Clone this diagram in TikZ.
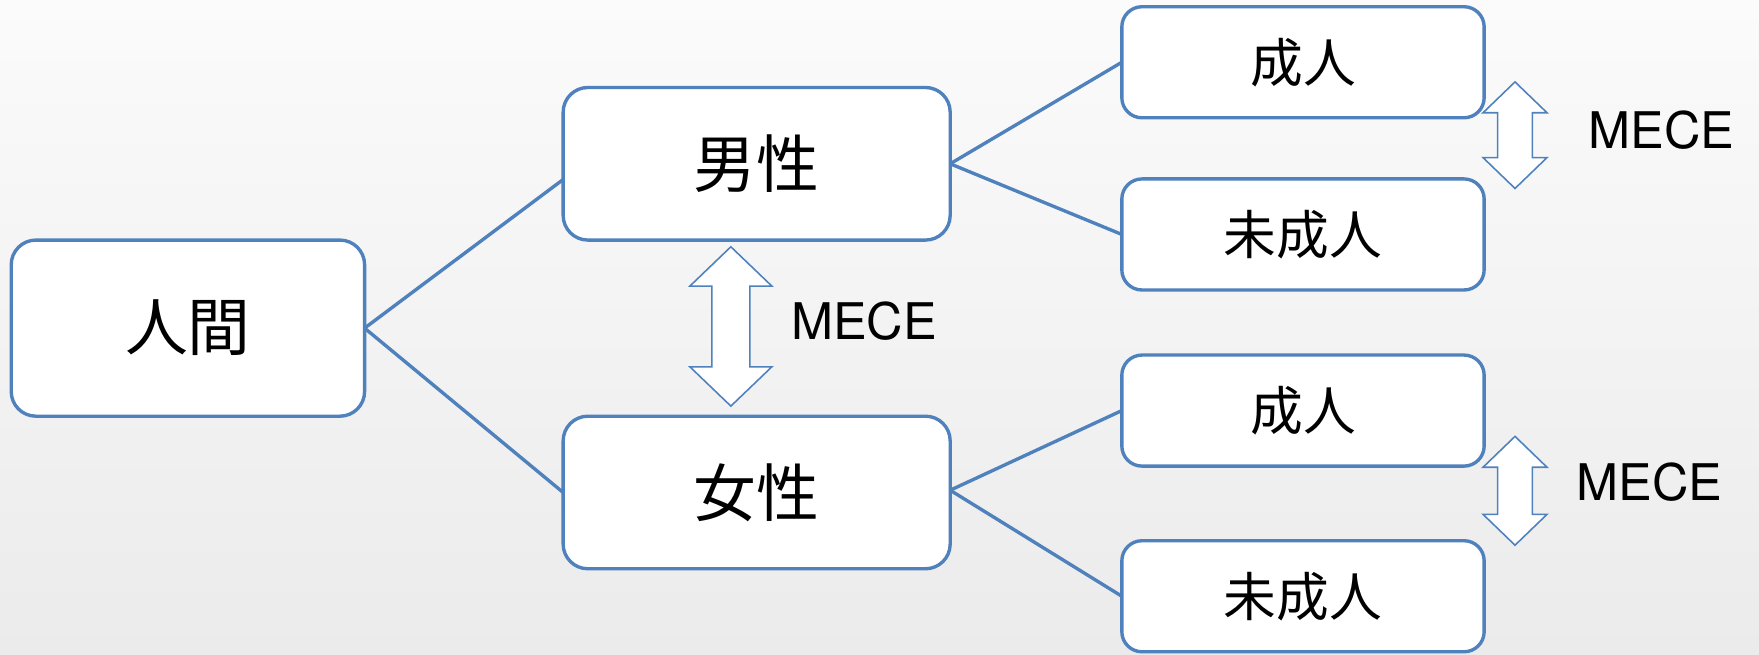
\documentclass[tikz,border=0pt]{standalone}
\usepackage{fontspec}
\setmainfont{TeX Gyre Heros}
\newfontfamily\cjk{Noto Sans CJK JP}
\definecolor{edge}{HTML}{4F81BD}
\definecolor{bgtop}{HTML}{FBFBFB}
\definecolor{bgbot}{HTML}{EBEBEB}
\tikzset{
  box/.style={draw=edge, line width=3pt, fill=white, rounded corners=22pt, inner sep=0pt, outer sep=0pt, font=\cjk\fontsize{56}{60}\selectfont},
  leaf/.style={box, minimum width=323pt, minimum height=99pt, rounded corners=18pt, font=\cjk\fontsize{47}{52}\selectfont},
  mid/.style={box, minimum width=345pt, minimum height=136pt},
  link/.style={draw=edge, line width=3pt},
  dbl/.style={draw=edge, line width=1.4pt, fill=white, line join=miter},
  lbl/.style={font=\fontsize{45}{50}\selectfont, inner sep=0pt}
}
\begin{document}
\begin{tikzpicture}[x=1pt,y=-1pt]
\shade[top color=bgtop, bottom color=bgbot] (0,0) rectangle (1568,583);
\useasboundingbox (0,0) rectangle (1568,583);
\node[box, minimum width=315pt, minimum height=157pt] (root) at (167.5,292.5) {人間};
\node[mid] (male) at (674.5,146) {男性};
\node[mid] (female) at (674.5,439) {女性};
\node[leaf] (m1) at (1161.5,55.5) {成人};
\node[leaf] (m2) at (1161.5,209) {未成人};
\node[leaf] (f1) at (1161.5,366) {成人};
\node[leaf] (f2) at (1161.5,531.5) {未成人};
\draw[link] (root.east) -- ([yshift=-14pt]male.west);
\draw[link] (root.east) -- (female.west);
\draw[link] (male.east) -- (m1.west);
\draw[link] (male.east) -- (m2.west);
\draw[link] ([yshift=2pt]female.east) -- (f1.west);
\draw[link] ([yshift=2pt]female.east) -- (f2.west);
% middle MECE arrow
\draw[dbl] (651.5,220) -- (688,255) -- (668.5,255) -- (668.5,327) -- (688,327) -- (651.5,362) -- (615,327) -- (634.5,327) -- (634.5,255) -- (615,255) -- cycle;
% top right arrow
\draw[dbl] (1350.5,73) -- (1379,100.5) -- (1366,100.5) -- (1366,140.5) -- (1379,140.5) -- (1350.5,168) -- (1322,140.5) -- (1335,140.5) -- (1335,100.5) -- (1322,100.5) -- cycle;
% bottom right arrow
\draw[dbl] (1350.5,389) -- (1379,416.5) -- (1366,416.5) -- (1366,458.5) -- (1379,458.5) -- (1350.5,486) -- (1322,458.5) -- (1335,458.5) -- (1335,416.5) -- (1322,416.5) -- cycle;
\node[lbl, anchor=west] (t1) at (705,286) {MECE};
\node[lbl, anchor=west] (t2) at (1416,116) {MECE};
\node[lbl, anchor=west] (t3) at (1405,430) {MECE};
\end{tikzpicture}
\end{document}
